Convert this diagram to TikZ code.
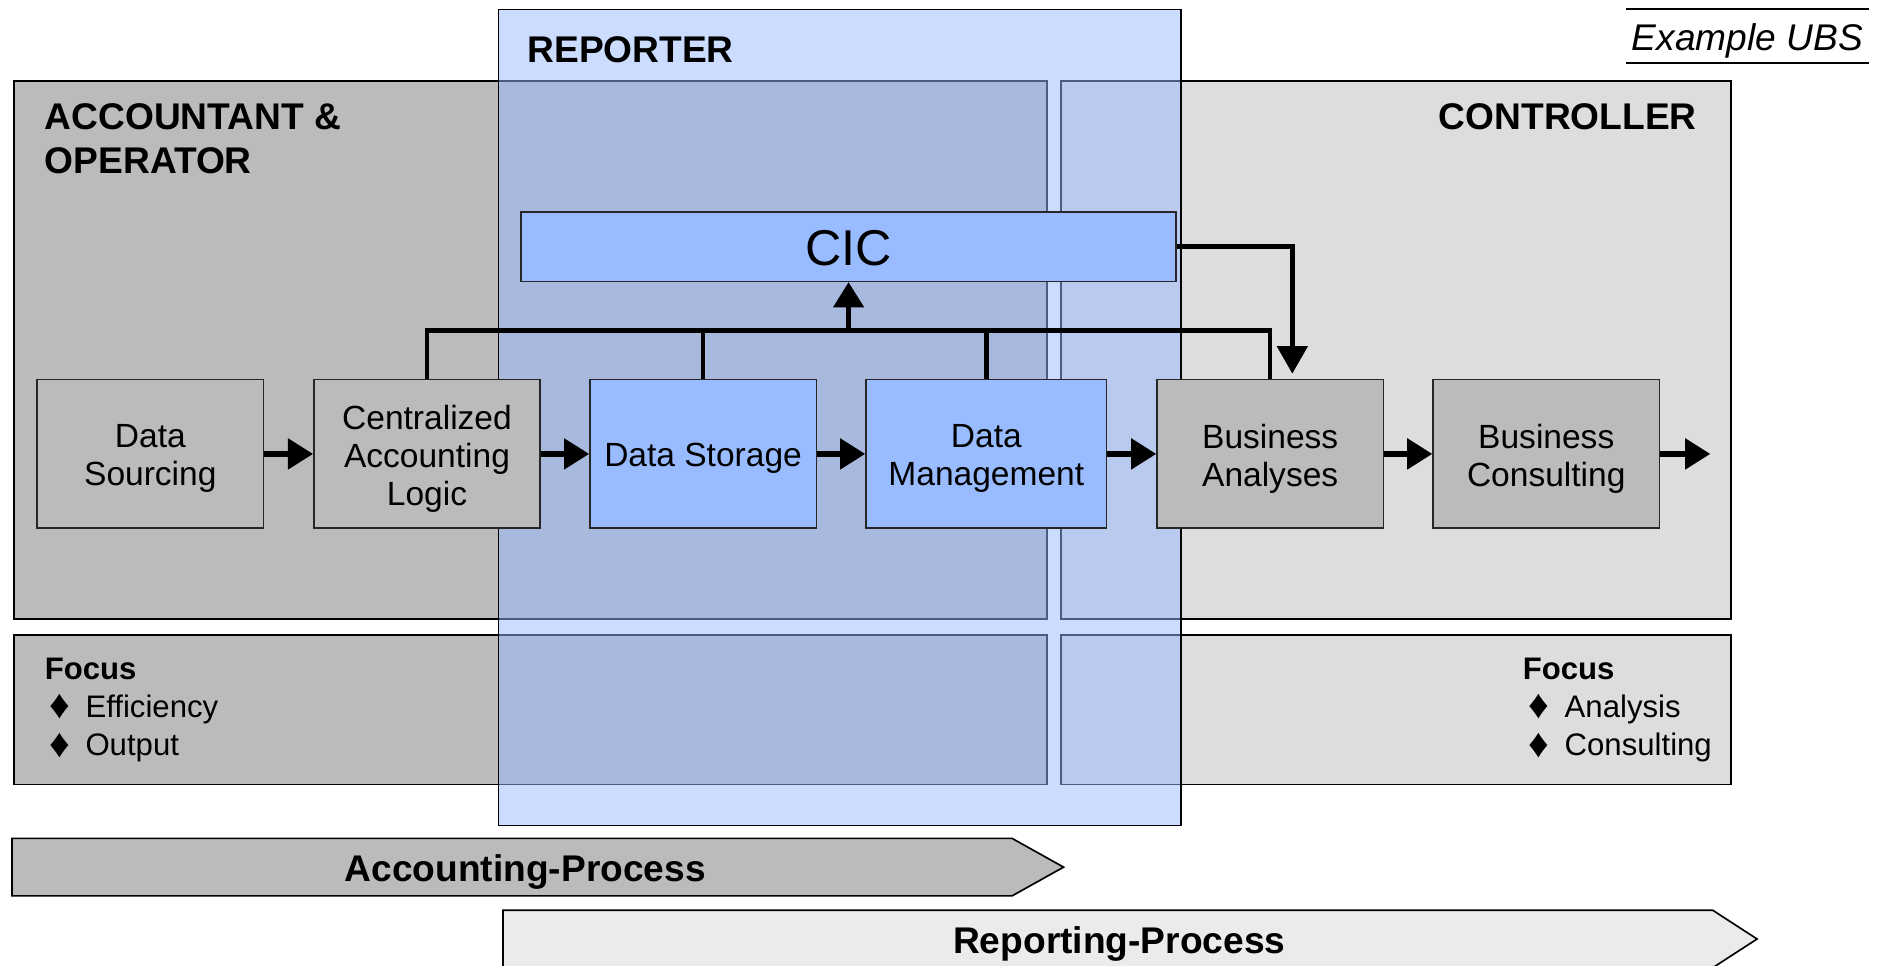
\documentclass[tikz,border=0pt]{standalone}
\usepackage{fontspec}
\setmainfont{Liberation Sans}
\usetikzlibrary{arrows.meta}

\definecolor{grayA}{RGB}{187,187,187}
\definecolor{grayB}{RGB}{221,221,221}
\definecolor{grayC}{RGB}{235,235,235}
\definecolor{blueA}{RGB}{153,187,255}
\definecolor{repblue}{RGB}{153,185,255}

\tikzset{
  area/.style={draw=black, line width=0.8pt, rectangle, inner sep=0pt},
  flowbox/.style={draw=black!85, line width=0.6pt, rectangle, inner sep=0pt,
    minimum width=94.5pt, minimum height=62pt},
  flowtext/.style={align=center, inner sep=0pt, yshift=-2pt,
    font=\fontsize{14}{16}\selectfont},
  flowarrow/.style={line width=2.3pt, -{Triangle[length=10.5pt,width=12.5pt]}},
  busline/.style={line width=1.9pt},
  hdr/.style={font=\fontsize{15.5}{18.5}\selectfont\bfseries, inner sep=0pt},
  focushd/.style={font=\fontsize{13}{15}\selectfont\bfseries, inner sep=0pt, anchor=base west},
  focusit/.style={font=\fontsize{13}{15}\selectfont, inner sep=0pt, anchor=base west},
  procarrow/.style={draw=black, line width=0.7pt},
  proctext/.style={font=\fontsize{15.5}{18}\selectfont\bfseries, inner sep=0pt, anchor=base}
}
\newcommand{\bul}{\makebox[15pt][l]{\raisebox{-0.6pt}{\fontsize{17}{15}\selectfont ♦}}}

\begin{document}
\begin{tikzpicture}[x=0.5pt,y=-0.5pt]
\useasboundingbox (0,0) rectangle (1568,806);
\clip (0,0) rectangle (1568,806);

% role areas
\node[area, fill=grayA, minimum width=431pt, minimum height=224.5pt] (acc) at (443,292.5) {};
\node[area, fill=grayB, minimum width=279.5pt, minimum height=224.5pt] (ctl) at (1165.5,292.5) {};
\node[area, fill=grayA, minimum width=431pt, minimum height=62.5pt] (accf) at (443,592.5) {};
\node[area, fill=grayB, minimum width=279.5pt, minimum height=62.5pt] (ctlf) at (1165.5,592.5) {};

% translucent reporter band
\node[draw=black, line width=0.6pt, fill=repblue, fill opacity=0.5, rectangle, inner sep=0pt,
      minimum width=285pt, minimum height=340.5pt] (rep) at (701,348.5) {};

% headings
\node[hdr, anchor=base west] (acct) at (37,108) {ACCOUNTANT \&};
\node[hdr, anchor=base west] (acco) at (37,145) {OPERATOR};
\node[hdr, anchor=base west] (rept) at (440,52) {REPORTER};
\node[hdr, anchor=base east] (ctlt) at (1417,108) {CONTROLLER};

% tag in the upper right corner
\node[font=\fontsize{15.5}{18}\selectfont\itshape, inner sep=0pt,
      minimum width=101pt, minimum height=22pt, text height=12pt, text depth=0pt] (ubs) at (1459,30) {Example UBS};
\draw[line width=0.8pt] (ubs.north west) -- (ubs.north east);
\draw[line width=0.8pt] (ubs.south west) -- (ubs.south east);

% CIC
\node[flowbox, fill=blueA, minimum width=273.5pt, minimum height=29pt,
      label={[name=cict, inner sep=0pt, yshift=-0.5pt, font=\fontsize{21}{24}\selectfont]center:CIC}] (cic) at (708.5,206) {};

% process chain
\node[flowbox, fill=grayA, label={[name=dst1, flowtext]center:{Data\\Sourcing}}] (ds) at (125.5,379) {};
\node[flowbox, fill=grayA, label={[name=calt, flowtext]center:{Centralized\\Accounting\\Logic}}] (cal) at (356.5,379) {};
\node[flowbox, fill=blueA, label={[name=dstt, flowtext]center:{Data Storage}}] (dst) at (587,379) {};
\node[flowbox, fill=blueA, minimum width=100.5pt, label={[name=dmt, flowtext]center:{Data\\Management}}] (dm) at (823.5,379) {};
\node[flowbox, fill=grayA, label={[name=bat, flowtext]center:{Business\\Analyses}}] (ba) at (1060.5,379) {};
\node[flowbox, fill=grayA, label={[name=bct, flowtext]center:{Business\\Consulting}}] (bc) at (1291,379) {};
\coordinate (out) at (1428,379);

\draw[flowarrow] (ds) -- (cal);
\draw[flowarrow] (cal) -- (dst);
\draw[flowarrow] (dst) -- (dm);
\draw[flowarrow] (dm) -- (ba);
\draw[flowarrow] (ba) -- (bc);
\draw[flowarrow] (bc) -- (out);

% collecting bus into CIC
\coordinate (bus) at (708.5,276);
\draw[busline] (cal.north) |- (bus) -| (ba.north);
\draw[busline] (dst.north) -- (dst.north |- bus);
\draw[busline] (dm.north) -- (dm.north |- bus);
\draw[flowarrow, line width=2pt] (bus) -- (cic.south);

% CIC feeding business analyses
\coordinate (cicr) at (1079,206);
\coordinate (batop) at (1079,312);
\draw[line width=2.1pt, -{Triangle[length=11.5pt,width=12.5pt]}] (cic.east) -- (cicr) -- (batop);

% focus lists
\node[focushd] (fl) at (37,567) {Focus};
\node[focusit] (fl1) at (41,599) {\bul Efficiency};
\node[focusit] (fl2) at (41,631) {\bul Output};
\node[focushd] (fr) at (1271,567) {Focus};
\node[focusit] (fr1) at (1276,599) {\bul Analysis};
\node[focusit] (fr2) at (1276,631) {\bul Consulting};

% process bands
\draw[procarrow, fill=grayA] (10,700) -- (845,700) -- (888,724) -- (845,748) -- (10,748) -- cycle;
\node[proctext] (accp) at (438.5,736) {Accounting-Process};
\draw[procarrow, fill=grayC] (420,760) -- (1430,760) -- (1467,784) -- (1430,808) -- (420,808) -- cycle;
\node[proctext] (repp) at (934.5,796) {Reporting-Process};
\end{tikzpicture}
\end{document}
